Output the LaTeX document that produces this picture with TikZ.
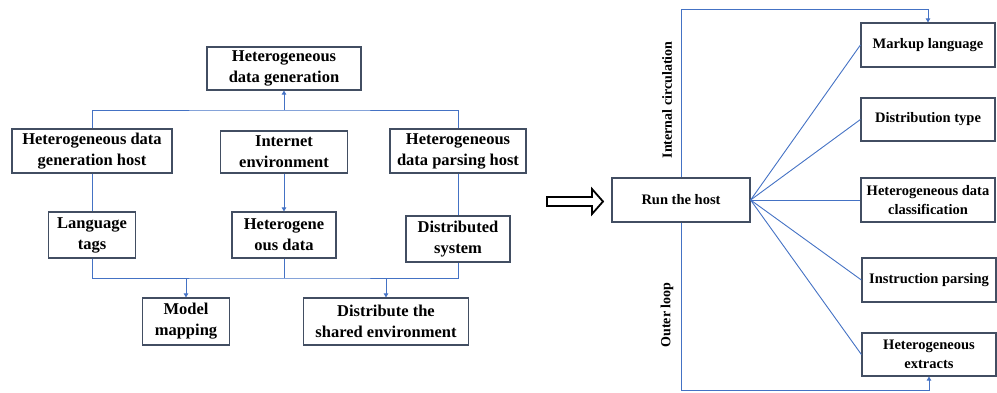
\documentclass[tikz,border=0pt]{standalone}
\usepackage{fontspec}
\setmainfont{Liberation Serif}
\usetikzlibrary{arrows.meta}
\definecolor{lineblue}{RGB}{68,114,196}
\definecolor{boxgray}{RGB}{66,78,98}

\begin{document}
\begin{tikzpicture}[
            x=1pt, y=-1pt, % 以像素为单位
            box/.style={
                draw=boxgray, % 边框颜色
                line width=1.2pt, % 边框粗细
                align=center, % 文字居中
                inner sep=0, % 内边距为 0
                font=\fontsize{16.5}{21}\selectfont\bfseries % 字体大小
            },
            rbox/.style={box, minimum width=134pt, minimum height=44pt, font=\fontsize{14.5}{19}\selectfont\bfseries}, % 右侧节点
            lbl/.style={font=\fontsize{14}{17}\selectfont\bfseries}, % 竖排标签
            link/.style={draw=lineblue, line width=0.9pt}, % 连线
            arr/.style={link, -{Triangle[length=4pt, width=4.5pt]}} % 带箭头连线
        ]
        \useasboundingbox (0,0) rectangle (997,392);

        % 左侧结构
        \node[box, minimum width=154pt, minimum height=43pt] (gen) at (284,68.5) {Heterogeneous\\data generation};
        \node[box, minimum width=160pt, minimum height=44pt] (genhost) at (92,151) {Heterogeneous data\\generation host};
        \node[box, minimum width=127pt, minimum height=42pt] (inet) at (284,152) {Internet\\environment};
        \node[box, minimum width=136pt, minimum height=44pt] (parsehost) at (458,151) {Heterogeneous\\data parsing host};
        \node[box, minimum width=87pt, minimum height=46pt] (tags) at (92,235) {Language\\tags};
        \node[box, minimum width=104pt, minimum height=46pt] (hdata) at (284,235) {Heterogene\\ous data};
        \node[box, minimum width=104pt, minimum height=46pt] (dsys) at (458,239) {Distributed\\system};
        \node[box, minimum width=87pt, minimum height=47pt] (model) at (186,321.5) {Model\\mapping};
        \node[box, minimum width=165pt, minimum height=47pt] (share) at (386,321.5) {Distribute the\\shared environment};

        % 左侧连线
        \coordinate (upbus) at (284,110); % 上方总线
        \coordinate (downbus) at (284,278); % 下方总线
        \draw[link] (genhost.north) |- (upbus) -| (parsehost.north);
        \draw[arr] (upbus) -- (gen.south);
        \draw[link] (genhost.south) -- (tags.north);
        \draw[arr] (inet.south) -- (hdata.north);
        \draw[link] (parsehost.south) -- (dsys.north);
        \draw[link] (tags.south) |- (downbus) -| (dsys.south);
        \draw[link] (hdata.south) -- (downbus);
        \draw[arr] (model.north |- downbus) -- (model.north);
        \draw[arr] (share.north |- downbus) -- (share.north);

        % 空心箭头
        \draw[line width=1.8pt, line join=miter] (547,197) -- (592,197) -- (592,189) -- (603,201.5) -- (592,214) -- (592,206) -- (547,206) -- cycle;

        % 右侧结构
        \node[box, minimum width=138pt, minimum height=44pt, font=\fontsize{14.5}{19}\selectfont\bfseries] (run) at (681,200) {Run the host};
        \node[rbox] (markup) at (928,45) {Markup language};
        \node[rbox, minimum height=43pt] (dtype) at (928,119.5) {Distribution type};
        \node[rbox] (cls) at (928,200) {Heterogeneous data\\classification};
        \node[rbox] (instr) at (929,280) {Instruction parsing};
        \node[rbox, minimum height=43pt] (extr) at (929,354.5) {Heterogeneous\\extracts};
        \node[lbl, rotate=90] (inner) at (667,100) {Internal circulation};
        \node[lbl, rotate=90] (outer) at (667,315) {Outer loop};

        % 右侧连线
        \coordinate (looptop) at (681,9); % 内循环
        \coordinate (loopbot) at (681,390); % 外循环
        \draw[arr] (run.north) -- (looptop) -| (markup.north);
        \draw[arr] (run.south) -- (loopbot) -| (extr.south);
        \draw[link] (run.east) -- (markup.west);
        \draw[link] (run.east) -- (dtype.west);
        \draw[link] (run.east) -- (cls.west);
        \draw[link] (run.east) -- (instr.west);
        \draw[link] (run.east) -- (extr.west);
\end{tikzpicture}
\end{document}
